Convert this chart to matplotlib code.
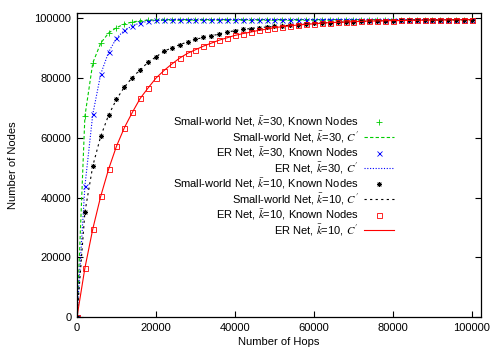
import matplotlib
matplotlib.use("Agg")
import matplotlib.pyplot as plt

plt.rcParams['font.family'] = ['Liberation Sans', 'DejaVu Sans']
plt.rcParams['mathtext.fontset'] = 'stix'

hops = list(range(0, 100001, 2000))

sw30 = [0, 67200, 85100, 91700, 95100, 96900, 98100, 98800, 99200, 99400,
        99500, 99550, 99600, 99600, 99600, 99600, 99600, 99600, 99600, 99600,
        99600, 99600, 99600, 99600, 99600, 99600, 99600, 99600, 99600, 99600,
        99600, 99600, 99600, 99600, 99600, 99600, 99600, 99600, 99600, 99600,
        99600, 99600, 99600, 99600, 99600, 99600, 99600, 99600, 99600, 99600,
        99600]
er30 = [0, 43800, 67900, 81300, 88700, 93400, 96000, 97500, 98500, 99000,
        99300, 99450, 99550, 99600, 99600, 99600, 99600, 99600, 99600, 99600,
        99600, 99600, 99600, 99600, 99600, 99600, 99600, 99600, 99600, 99600,
        99600, 99600, 99600, 99600, 99600, 99600, 99600, 99600, 99600, 99600,
        99600, 99600, 99600, 99600, 99600, 99600, 99600, 99600, 99600, 99600,
        99600]
sw10 = [0, 35100, 50600, 60500, 67600, 72900, 77000, 80200, 82800, 85300,
        87100, 89000, 90100, 91200, 92100, 93000, 93600, 94200, 94700, 95400,
        95900, 96300, 96600, 96900, 97100, 97300, 97500, 97700, 97900, 98100,
        98300, 98450, 98600, 98700, 98800, 98900, 99000, 99100, 99150, 99200,
        99250, 99300, 99350, 99400, 99420, 99450, 99480, 99500, 99530, 99560,
        99580]
er10 = [0, 16400, 29500, 40400, 49500, 57200, 63400, 68500, 73200, 76700,
        80000, 82500, 84700, 86700, 88300, 89500, 90700, 91700, 92700, 93500,
        94300, 94900, 95400, 96000, 96400, 96900, 97200, 97500, 97800, 98000,
        98200, 98400, 98600, 98700, 98800, 98900, 99000, 99100, 99150, 99200,
        99250, 99300, 99350, 99400, 99420, 99450, 99480, 99500, 99530, 99560,
        99580]

labels = [
    r"Small-world Net, $\bar{k}$=30, Known Nodes",
    r"Small-world Net, $\bar{k}$=30, $C^{\prime}$",
    r"ER Net, $\bar{k}$=30, Known Nodes",
    r"ER Net, $\bar{k}$=30, $C^{\prime}$",
    r"Small-world Net, $\bar{k}$=10, Known Nodes",
    r"Small-world Net, $\bar{k}$=10, $C^{\prime}$",
    r"ER Net, $\bar{k}$=10, Known Nodes",
    r"ER Net, $\bar{k}$=10, $C^{\prime}$",
]

fig = plt.figure(figsize=(5, 3.5), dpi=100)
ax = fig.add_axes([77/500, 1-317/350, (481-77)/500, (317-13)/350])

green = '#00cc00'
blue = '#0000ff'
black = '#000000'
red = '#ff0000'
lw = 0.8

ax.plot(hops, sw30, linestyle='none', marker='+', color=green, ms=4.2, mew=0.6, label=labels[0])
ax.plot(hops, sw30, linestyle=(0, (3, 2)), color=green, lw=lw, label=labels[1])
ax.plot(hops, er30, linestyle='none', marker='x', color=blue, ms=3.6, mew=0.6, label=labels[2])
ax.plot(hops, er30, linestyle=(0, (1, 1.5)), color=blue, lw=lw, label=labels[3])
ax.plot(hops, sw10, linestyle='none', marker=(8, 2, 0), color=black, ms=3.6, mew=0.6, label=labels[4])
ax.plot(hops, sw10, linestyle=(0, (2, 3)), color=black, lw=lw, label=labels[5])
ax.plot(hops, er10, linestyle='none', marker='s', mfc='none', color=red, ms=3.6, mew=0.6, label=labels[6])
ax.plot(hops, er10, linestyle='-', color=red, lw=lw, label=labels[7])

ax.set_xlim(0, 102300)
ax.set_ylim(0, 101800)
ax.set_xticks([0, 20000, 40000, 60000, 80000, 100000])
ax.set_yticks([0, 20000, 40000, 60000, 80000, 100000])
ax.tick_params(direction='in', top=True, right=True, length=4, width=0.8, labelsize=8, pad=4)
for s in ax.spines.values():
    s.set_linewidth(0.9)
ax.set_xlabel("Number of Hops", fontsize=8, labelpad=3)
ax.set_ylabel("Number of Nodes", fontsize=8, labelpad=12)

leg = ax.legend(loc='upper right', bbox_to_anchor=(394/500, 1-114/350),
                bbox_transform=fig.transFigure, frameon=False, markerfirst=False,
                fontsize=8, handlelength=2.7, handletextpad=0.5, labelspacing=0.05,
                borderpad=0, borderaxespad=0)

fig.savefig("out.png", dpi=100)
